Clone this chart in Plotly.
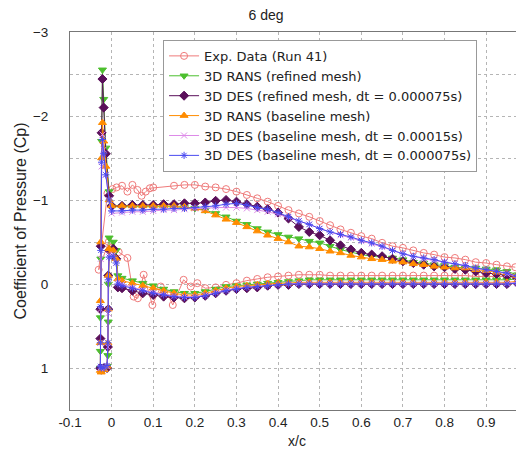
import plotly.graph_objects as go

# ---------------------------------------------------------------------------
# chordwise stations (x/c)

X_UPPER = [0.0, 0.025, 0.05, 0.075, 0.1, 0.125, 0.15, 0.175, 0.2, 0.225,
           0.25, 0.275, 0.3, 0.325, 0.35, 0.375, 0.4, 0.425, 0.45, 0.475,
           0.5, 0.525, 0.55, 0.575, 0.6, 0.625, 0.65, 0.675, 0.7, 0.725,
           0.75, 0.775, 0.8, 0.825, 0.85, 0.875, 0.9, 0.925, 0.95, 0.975, 0.99]
X_LE = [-0.006, -0.014, -0.019, -0.022, -0.024, -0.026, -0.027, -0.027, -0.027,
        -0.025, -0.018, -0.011, -0.009, -0.008, -0.008, -0.006, 0.004, 0.011]
X_LOWER = [0.015, 0.025, 0.05, 0.075, 0.1, 0.125, 0.15, 0.175, 0.2, 0.225,
           0.25, 0.275, 0.3, 0.325, 0.35, 0.375, 0.4, 0.425, 0.45, 0.475,
           0.5, 0.525, 0.55, 0.575, 0.6, 0.625, 0.65, 0.675, 0.7, 0.725,
           0.75, 0.775, 0.8, 0.825, 0.85, 0.875, 0.9, 0.925, 0.95, 0.975, 0.99]

# Exp. Data (Run 41)
EXP_UP_X = [-0.031, -0.01, 0.002, 0.012, 0.025, 0.038, 0.05, 0.062, 0.072, 0.082,
            0.092, 0.10, 0.15, 0.175, 0.2, 0.225, 0.25, 0.275, 0.3, 0.325,
            0.35, 0.375, 0.4, 0.425, 0.45, 0.475, 0.5, 0.525, 0.55, 0.575,
            0.6, 0.625, 0.65, 0.675, 0.7, 0.725, 0.75, 0.775, 0.8, 0.825,
            0.85, 0.875, 0.9, 0.925, 0.95, 0.97]
EXP_UP_CP = [-0.17, -1.08, -1.13, -1.15, -1.17, -1.10, -1.18, -1.12, -1.05, -1.10,
             -1.14, -1.15, -1.17, -1.18, -1.18, -1.16, -1.15, -1.13, -1.10, -1.06,
             -1.02, -0.98, -0.93, -0.88, -0.84, -0.80, -0.75, -0.70, -0.65, -0.61,
             -0.57, -0.54, -0.49, -0.45, -0.43, -0.40, -0.37, -0.35, -0.32, -0.31,
             -0.29, -0.26, -0.25, -0.23, -0.21, -0.20]
EXP_LO_X = [-0.007, 0.017, 0.038, 0.053, 0.063, 0.077, 0.098, 0.118, 0.135, 0.147,
            0.173, 0.19, 0.206, 0.225, 0.25, 0.275, 0.3, 0.325, 0.35, 0.375,
            0.4, 0.425, 0.45, 0.475, 0.5, 0.525, 0.55, 0.575, 0.6, 0.625,
            0.65, 0.675, 0.7, 0.725, 0.75, 0.775, 0.8, 0.825, 0.85, 0.875,
            0.9, 0.925, 0.95, 0.97]
EXP_LO_CP = [-0.50, -0.38, -0.31, 0.15, 0.17, -0.11, 0.25, 0.03, 0.12, 0.25,
             -0.05, 0.03, -0.01, 0.05, 0.04, 0.01, -0.01, -0.04, -0.06, -0.08,
             -0.09, -0.10, -0.11, -0.11, -0.11, -0.10, -0.10, -0.10, -0.10, -0.10,
             -0.10, -0.10, -0.10, -0.10, -0.10, -0.10, -0.10, -0.10, -0.10, -0.09,
             -0.09, -0.09, -0.09, -0.09]

# 3D RANS (refined mesh)
RANS_REF_UP = [-0.92, -0.92, -0.92, -0.92, -0.92, -0.92, -0.92, -0.91, -0.90, -0.88,
               -0.84, -0.80, -0.75, -0.71, -0.66, -0.62, -0.59, -0.56, -0.54, -0.51,
               -0.49, -0.45, -0.41, -0.38, -0.35, -0.33, -0.32, -0.31, -0.29, -0.26,
               -0.25, -0.23, -0.22, -0.20, -0.19, -0.19, -0.18, -0.17, -0.15, -0.11, -0.28]
RANS_REF_LE = [-1.10, -1.62, -2.20, -2.55, -1.70, -0.30, 0.40, 0.80, 1.00,
               1.02, 1.00, 0.98, 0.85, 0.45, 0.00, -0.55, -0.50, -0.40]
RANS_REF_LO = [-0.10, -0.07, -0.04, -0.01, 0.02, 0.06, 0.09, 0.11, 0.11, 0.09,
               0.06, 0.03, 0.02, 0.01, 0.00, -0.01, -0.02, -0.03, -0.04, -0.05,
               -0.05, -0.05, -0.05, -0.05, -0.05, -0.05, -0.05, -0.05, -0.05, -0.05,
               -0.05, -0.05, -0.05, -0.05, -0.05, -0.05, -0.05, -0.05, -0.05, -0.06, -0.12]

# 3D DES (refined mesh, dt = 0.000075s)
DES_REF_UP = [-0.93, -0.93, -0.94, -0.94, -0.94, -0.95, -0.95, -0.96, -0.96, -0.97,
              -0.99, -1.00, -0.98, -0.95, -0.92, -0.89, -0.85, -0.78, -0.68, -0.62,
              -0.58, -0.52, -0.46, -0.41, -0.37, -0.35, -0.33, -0.30, -0.27, -0.25,
              -0.23, -0.21, -0.20, -0.18, -0.17, -0.15, -0.13, -0.12, -0.10, -0.07, -0.12]
DES_REF_LE = [-1.05, -1.55, -2.10, -2.44, -1.80, -0.45, 0.30, 0.65, 1.00,
              1.02, 1.00, 1.00, 0.75, 0.30, -0.10, -0.40, -0.42, -0.30]
DES_REF_LO = [0.04, 0.05, 0.08, 0.11, 0.13, 0.15, 0.16, 0.17, 0.16, 0.14,
              0.11, 0.08, 0.06, 0.05, 0.04, 0.02, 0.01, 0.01, 0.00, 0.00,
              0.00, 0.00, 0.00, 0.00, 0.00, 0.00, 0.00, 0.00, 0.00, 0.00,
              0.00, 0.00, 0.00, 0.00, 0.00, 0.00, 0.00, 0.00, 0.00, -0.01, -0.06]

# 3D RANS (baseline mesh)
RANS_BASE_UP = [-0.93, -0.93, -0.93, -0.93, -0.93, -0.93, -0.93, -0.92, -0.90, -0.87,
                -0.82, -0.77, -0.73, -0.68, -0.63, -0.58, -0.54, -0.50, -0.45, -0.44,
                -0.42, -0.39, -0.37, -0.34, -0.32, -0.30, -0.29, -0.27, -0.26, -0.24,
                -0.23, -0.21, -0.20, -0.19, -0.19, -0.17, -0.16, -0.14, -0.13, -0.10, -0.18]
RANS_BASE_LE = [-1.00, -1.40, -1.70, -1.92, -1.50, -0.50, 0.20, 0.70, 1.03,
                1.05, 1.02, 0.98, 0.70, 0.30, -0.10, -0.42, -0.40, -0.30]
RANS_BASE_LO = [-0.06, -0.04, -0.01, 0.02, 0.05, 0.08, 0.11, 0.13, 0.13, 0.11,
                0.08, 0.05, 0.03, 0.02, 0.01, 0.00, -0.01, -0.01, -0.02, -0.02,
                -0.02, -0.02, -0.02, -0.02, -0.02, -0.02, -0.02, -0.02, -0.02, -0.02,
                -0.02, -0.02, -0.02, -0.02, -0.02, -0.02, -0.02, -0.02, -0.02, -0.03, -0.08]

# 3D DES (baseline mesh, dt = 0.00015s)
DES_B15_UP = [-0.84, -0.85, -0.86, -0.86, -0.87, -0.88, -0.88, -0.89, -0.90, -0.90,
              -0.91, -0.91, -0.91, -0.90, -0.88, -0.86, -0.83, -0.79, -0.75, -0.71,
              -0.66, -0.62, -0.58, -0.55, -0.51, -0.48, -0.44, -0.40, -0.36, -0.33,
              -0.30, -0.28, -0.26, -0.24, -0.21, -0.19, -0.17, -0.15, -0.12, -0.09, -0.12]
DES_B15_LE = [-1.00, -1.30, -1.60, -1.78, -1.40, -0.30, 0.30, 0.70, 1.00,
              1.00, 1.00, 0.98, 0.75, 0.35, -0.05, -0.35, -0.35, -0.25]
DES_B15_LO = [-0.02, 0.00, 0.04, 0.07, 0.10, 0.12, 0.14, 0.15, 0.15, 0.13,
              0.10, 0.07, 0.05, 0.04, 0.03, 0.02, 0.01, 0.00, -0.01, -0.01,
              -0.01, -0.01, -0.01, -0.01, -0.01, -0.01, -0.01, -0.01, -0.01, -0.01,
              -0.01, -0.01, -0.01, -0.01, -0.01, -0.01, -0.01, -0.01, -0.01, -0.02, -0.07]

# 3D DES (baseline mesh, dt = 0.000075s)
DES_B75_UP = [-0.87, -0.87, -0.88, -0.88, -0.89, -0.89, -0.90, -0.90, -0.91, -0.92,
              -0.93, -0.95, -0.96, -0.94, -0.91, -0.89, -0.85, -0.80, -0.75, -0.71,
              -0.66, -0.62, -0.59, -0.56, -0.52, -0.49, -0.45, -0.40, -0.36, -0.33,
              -0.31, -0.29, -0.26, -0.24, -0.22, -0.19, -0.17, -0.15, -0.13, -0.09, -0.12]
DES_B75_LE = [-1.00, -1.30, -1.55, -1.72, -1.45, -0.40, 0.27, 0.70, 0.98,
              1.00, 1.00, 0.97, 0.70, 0.30, -0.05, -0.32, -0.33, -0.25]
DES_B75_LO = [0.00, 0.02, 0.05, 0.08, 0.11, 0.13, 0.15, 0.16, 0.16, 0.14,
              0.11, 0.08, 0.06, 0.04, 0.03, 0.02, 0.01, 0.00, 0.00, 0.00,
              0.00, 0.00, 0.00, 0.00, 0.00, 0.00, 0.00, 0.00, 0.00, 0.00,
              0.00, 0.00, 0.00, 0.00, 0.00, 0.00, 0.00, 0.00, 0.00, -0.01, -0.06]

X_TICKS = [-0.1, 0, 0.1, 0.2, 0.3, 0.4, 0.5, 0.6, 0.7, 0.8, 0.9, 1.0]
X_TICKTEXT = ["-0.1", "0", "0.1", "0.2", "0.3", "0.4", "0.5", "0.6", "0.7", "0.8", "0.9", "1"]

# ---------------------------------------------------------------------------


def loop(upper, le, lower):
    # trailing edge -> upper surface -> leading edge -> lower surface
    return X_UPPER[::-1] + X_LE + X_LOWER, upper[::-1] + le + lower


fig = go.Figure()

# experiment
fig.add_trace(go.Scatter(
    x=EXP_UP_X[::-1] + EXP_LO_X,
    y=EXP_UP_CP[::-1] + EXP_LO_CP,
    mode="lines+markers",
    name="Exp. Data (Run 41)",
    line=dict(color="#ef7a7a", width=1),
    marker=dict(symbol="circle-open", size=7, color="#ef7a7a", line=dict(width=1)),
))

series = [
    ("3D RANS (refined mesh)", RANS_REF_UP, RANS_REF_LE, RANS_REF_LO,
     "#4cbf2e", "triangle-down", 7),
    ("3D DES (refined mesh, dt = 0.000075s)", DES_REF_UP, DES_REF_LE, DES_REF_LO,
     "#5a0f5a", "diamond", 7),
    ("3D RANS (baseline mesh)", RANS_BASE_UP, RANS_BASE_LE, RANS_BASE_LO,
     "#ff8c00", "triangle-up", 7),
    ("3D DES (baseline mesh, dt = 0.00015s)", DES_B15_UP, DES_B15_LE, DES_B15_LO,
     "#dd8ae8", "x-thin-open", 6),
    ("3D DES (baseline mesh, dt = 0.000075s)", DES_B75_UP, DES_B75_LE, DES_B75_LO,
     "#4a4af0", "asterisk-open", 6),
]

for name, up, le, lo, color, symbol, size in series:
    x, y = loop(up, le, lo)
    fig.add_trace(go.Scatter(
        x=x, y=y,
        mode="lines+markers",
        name=name,
        line=dict(color=color, width=1),
        marker=dict(symbol=symbol, size=size, color=color,
                    line=dict(width=1, color=color)),
    ))

# the page body adds an 8px offset, so the figure is 8px smaller than the window
fig.update_layout(
    width=516,
    height=446,
    margin=dict(l=62, r=0, t=24, b=44),
    paper_bgcolor="white",
    plot_bgcolor="white",
    font=dict(family="Liberation Sans, Arial, sans-serif", size=13.5, color="#222"),
    title=dict(text="6 deg", x=0.5, xanchor="center", y=0.983, yanchor="middle",
               font=dict(size=14)),
    showlegend=True,
    legend=dict(
        x=0.205, y=0.979, xanchor="left", yanchor="top",
        bgcolor="white", bordercolor="#999", borderwidth=1,
        font=dict(family="DejaVu Sans, sans-serif", size=13), tracegroupgap=0,
    ),
)

fig.update_xaxes(
    range=[-0.1, 0.991],
    tickvals=X_TICKS, ticktext=X_TICKTEXT,
    showgrid=True, gridcolor="#b5b5b5", griddash="dot", gridwidth=1,
    zeroline=False,
    showline=True, linecolor="#777", linewidth=1, mirror=True,
    ticks="",
    title=dict(text="x/c", standoff=6, font=dict(size=14)),
)

fig.update_yaxes(
    range=[1.5, -3],
    dtick=1, tick0=0,
    showgrid=True, gridcolor="#b5b5b5", griddash="dot", gridwidth=1,
    minor=dict(dtick=0.5, showgrid=True, gridcolor="#b5b5b5", griddash="dot"),
    zeroline=False,
    showline=True, linecolor="#777", linewidth=1, mirror=True,
    ticks="", ticklabelstandoff=18,
    title=dict(text="Coefficient of Pressure (Cp)", standoff=2),
)

fig.write_html("out.html")
